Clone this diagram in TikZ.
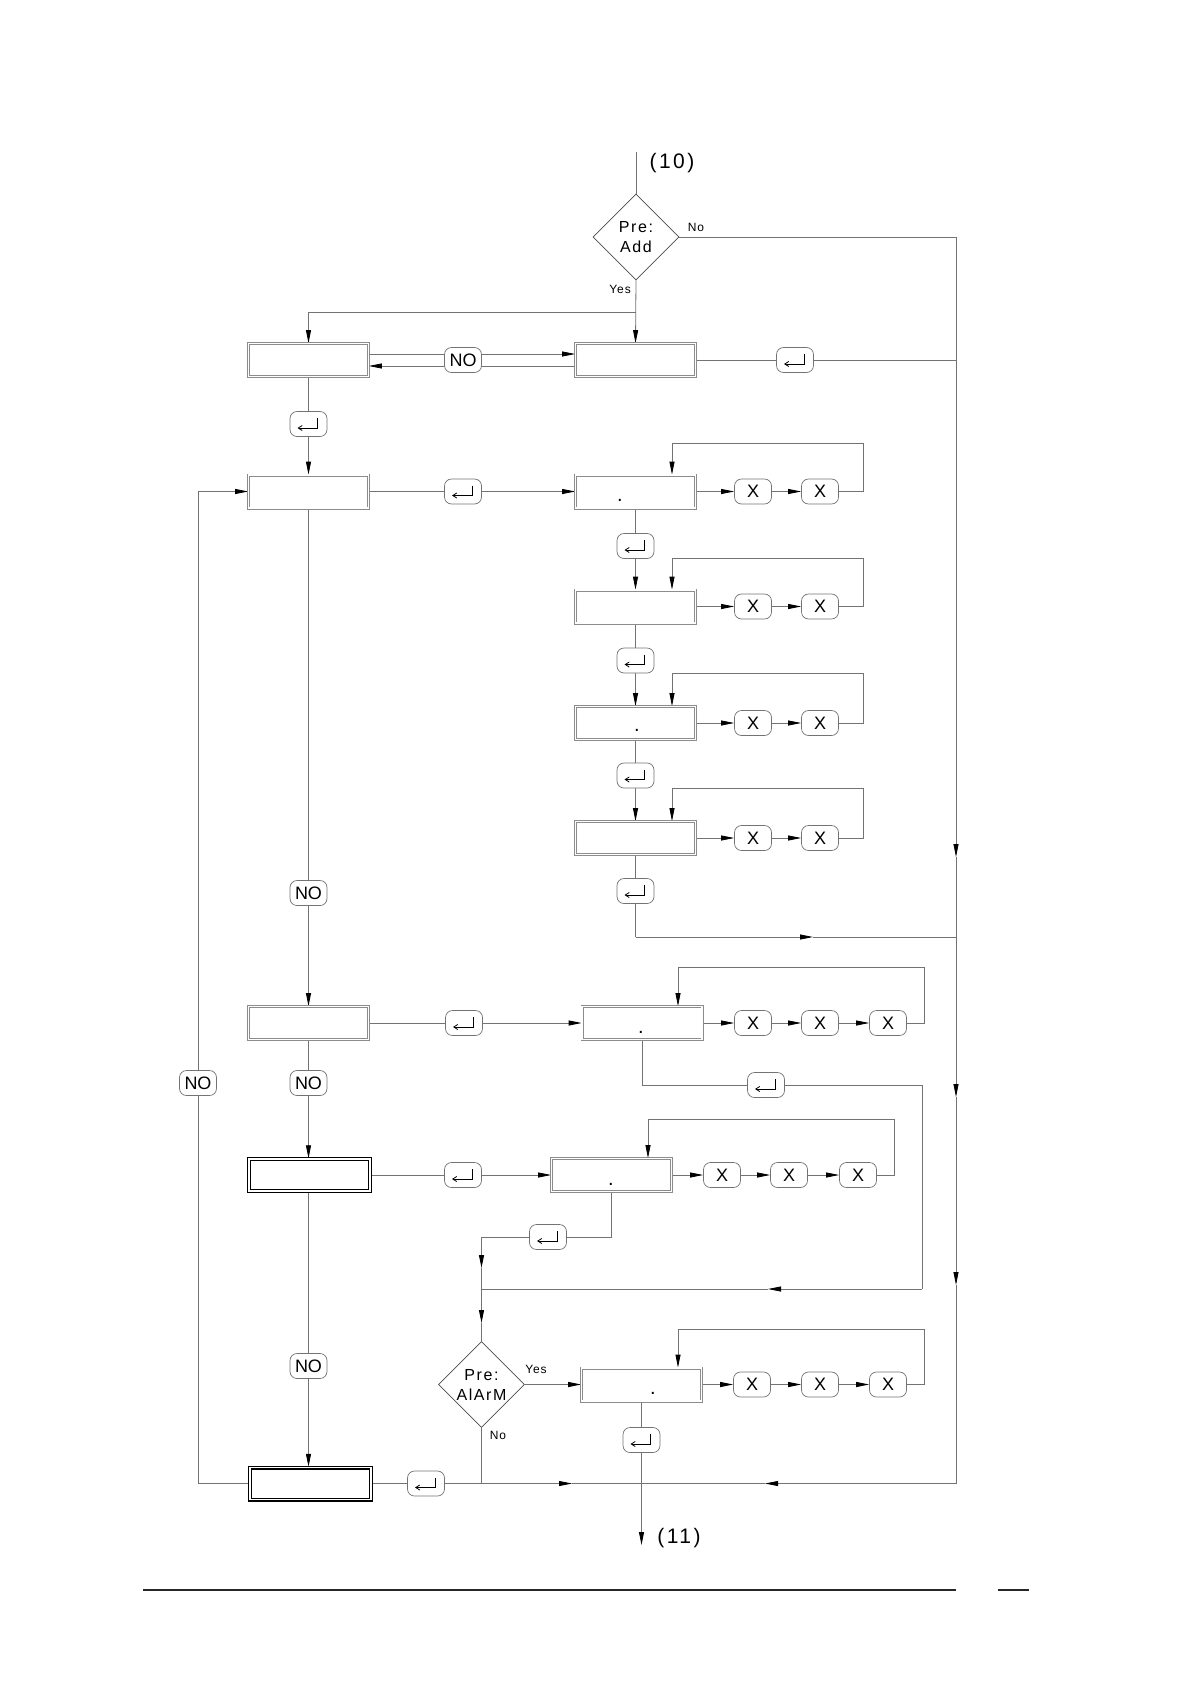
\documentclass[tikz,border=0pt]{standalone}
\usepackage{fontspec}
\setmainfont{Liberation Sans}
\usetikzlibrary{arrows.meta,shapes.geometric,calc}
\pgfdeclarelayer{bg}
\pgfsetlayers{bg,main}
\tikzset{
 ln/.style={draw=black!55, line width=0.8pt},
 arr/.style={ln, -{Triangle[length=13pt,width=5pt,color=black]}},
 gbox/.style={draw=black!45, line width=0.7pt, double=white, double distance=1.6pt, fill=white, minimum width=120pt, minimum height=33pt, inner sep=0pt},
 kbox/.style={draw=black, line width=1.4pt, double=white, double distance=1.2pt, fill=white, minimum width=121pt, minimum height=32pt, inner sep=0pt},
 btn/.style={draw=black!55, line width=0.7pt, rounded corners=7pt, fill=white, minimum width=37pt, minimum height=25pt, inner sep=0pt, font=\fontsize{18}{18}\selectfont},
 entbtn/.style={btn, path picture={\draw[black, line width=0.8pt, sharp corners, -{Straight Barb[length=4pt,width=5pt]}] ([shift={(9pt,6pt)}]path picture bounding box.center) -- ++(0,-10pt) -- ++(-20pt,0);}},
 dec/.style={diamond, draw=black!70, line width=0.7pt, fill=white, minimum width=86pt, minimum height=86pt, inner sep=0pt, aspect=1, font=\fontsize{16}{20}\selectfont\addfontfeature{LetterSpace=10}, align=center},
 lbl/.style={font=\fontsize{12}{12}\selectfont\addfontfeature{LetterSpace=8}, inner sep=0pt},
 bigl/.style={font=\fontsize{21}{21}\selectfont\addfontfeature{LetterSpace=12}, inner sep=0pt},
 dotl/.style={font=\fontsize{20}{20}\selectfont, inner sep=0pt, anchor=base},
}
\begin{document}
\begin{tikzpicture}[x=1pt,y=-1pt]
\useasboundingbox (0,0) rectangle (1190,1684);

% ---- top decision
\coordinate (c10) at (636,152);
\node[bigl] (t10) at (672,163) {(10)};
\node[dec] (d1) at (636,237) {Pre:\\Add};
\node[lbl] (no1) at (696,227) {No};
\node[lbl] (yes1) at (620,289) {Yes};

% ---- row 0
\node[gbox] (L0) at (308.5,360) {};
\node[gbox] (R0) at (635.5,360) {};
\node[btn] (n0) at (463,360) {NO};
\node[entbtn] (e0) at (795,360) {};
\node[entbtn] (eL0) at (308.5,424) {};

% ---- row 1
\node[gbox] (L1) at (308.5,491.5) {};
\node[entbtn] (e1) at (463,491.5) {};
\node[gbox] (R1) at (635.5,491.5) {};
\node[dotl] (p1) at (620,501) {.};
\node[btn] (X11) at (753,491.5) {X};
\node[btn] (X12) at (820,491.5) {X};
\node[entbtn] (e12) at (635.5,546) {};

% ---- row 2
\node[gbox] (R2) at (635.5,606.5) {};
\node[btn] (X21) at (753,606.5) {X};
\node[btn] (X22) at (820,606.5) {X};
\node[entbtn] (e23) at (635.5,660.5) {};

% ---- row 3
\node[gbox] (R3) at (635.5,723) {};
\node[dotl] (p3) at (637,731) {.};
\node[btn] (X31) at (753,723) {X};
\node[btn] (X32) at (820,723) {X};
\node[entbtn] (e34) at (635.5,775.5) {};

% ---- row 4
\node[gbox] (R4) at (635.5,838) {};
\node[btn] (X41) at (753,838) {X};
\node[btn] (X42) at (820,838) {X};
\node[entbtn] (e4) at (635.5,891) {};

% ---- row 5
\node[btn] (nA) at (308.5,893) {NO};
\node[gbox] (L5) at (308.5,1023) {};
\node[entbtn] (e5) at (464,1023) {};
\node[gbox] (R5) at (642,1023) {};
\node[dotl] (p5) at (641,1033) {.};
\node[btn] (X51) at (753,1023) {X};
\node[btn] (X52) at (820,1023) {X};
\node[btn] (X53) at (888,1023) {X};
\node[entbtn] (e5b) at (766,1085) {};
\node[btn] (nB) at (308.5,1083) {NO};
\node[btn] (nC) at (198,1083) {NO};

% ---- row 6
\node[kbox] (L6) at (309.5,1175) {};
\node[entbtn] (e6) at (463,1175) {};
\node[gbox] (R6) at (611.5,1175) {};
\node[dotl] (p6) at (611,1185) {.};
\node[btn] (X61) at (722,1175) {X};
\node[btn] (X62) at (789,1175) {X};
\node[btn] (X63) at (858,1175) {X};
\node[entbtn] (e6b) at (548,1237) {};

% ---- row 7
\node[dec] (d2) at (481.5,1384.5) {Pre:\\AlArM};
\node[lbl] (yes2) at (536,1369) {Yes};
\node[lbl] (no2) at (498,1435) {No};
\node[gbox] (R7) at (641.5,1384.5) {};
\node[dotl] (p7) at (653,1394) {.};
\node[btn] (X71) at (752,1384.5) {X};
\node[btn] (X72) at (820,1384.5) {X};
\node[btn] (X73) at (888,1384.5) {X};
\node[entbtn] (e7) at (641.5,1440) {};
\node[btn] (nD) at (308.5,1366) {NO};
\node[kbox] (L7) at (310.5,1483.5) {};
\node[entbtn] (e7b) at (426,1483.5) {};
\node[bigl] (t11) at (679,1538) {(11)};

% ---- coordinates
\coordinate (cY) at (636,312);
\coordinate (cYL) at (308.5,312);
\coordinate (cN1) at (956,237);
\coordinate (cR0j) at (956,360);
\coordinate (cRa1) at (956,857);
\coordinate (cRa2) at (956,1097);
\coordinate (cRa3) at (956,1285);
\coordinate (cB3) at (956,1483.5);
\coordinate (cBm2) at (765,1483.5);
\coordinate (cB2) at (641.5,1483.5);
\coordinate (cBm) at (572,1483.5);
\coordinate (cB1) at (481.5,1483.5);
\coordinate (c11) at (641.5,1545);
\coordinate (cL1) at (198,1483.5);
\coordinate (cL2) at (198,491.5);
\coordinate (l1b) at (863,443);   \coordinate (l1c) at (672,443);
\coordinate (l2b) at (863,558);   \coordinate (l2c) at (672,558);
\coordinate (l3b) at (863,673.5); \coordinate (l3c) at (672,673.5);
\coordinate (l4b) at (863,788.5); \coordinate (l4c) at (672,788.5);
\coordinate (l5b) at (924,967);   \coordinate (l5c) at (678,967);
\coordinate (l6b) at (894,1119);  \coordinate (l6c) at (648,1119);
\coordinate (l7b) at (924,1329);  \coordinate (l7c) at (678,1329);
\coordinate (c4a) at (635.5,937);
\coordinate (c4m) at (813,937);
\coordinate (c4e) at (956,937);
\coordinate (c5a) at (642,1085);
\coordinate (c5b) at (922,1085);
\coordinate (c5c) at (922,1289);
\coordinate (c5m) at (768,1289);
\coordinate (c5d) at (481.5,1289);
\coordinate (c6a) at (611.5,1237);
\coordinate (c6b) at (481.5,1237);
\coordinate (c6m) at (481.5,1268);
\coordinate (c6n) at (481.5,1323);

\begin{pgfonlayer}{bg}
% top
\draw[ln] (c10) -- (d1.north);
\draw[arr] (d1.south) -- (R0.north);
\draw[arr] (cY) -- (cYL) -- (L0.north);
\draw[ln] (d1.east) -- (cN1);
% right trunk
\draw[arr] (cN1) -- (cRa1);
\draw[arr] (cRa1) -- (cRa2);
\draw[arr] (cRa2) -- (cRa3);
\draw[ln] (cRa3) -- (cB3);
\draw[arr] (cB3) -- (cBm2);
\draw[ln] (cBm2) -- (cB2);
% row 0
\draw[arr] ([yshift=6pt]L0.east) -- ([yshift=6pt]R0.west);
\draw[arr] ([yshift=-6pt]R0.west) -- ([yshift=-6pt]L0.east);
\draw[ln] (R0.east) -- (e0) -- (cR0j);
\draw[ln] (L0.south) -- (eL0);
\draw[arr] (eL0) -- (L1.north);
% row 1
\draw[ln] (L1.east) -- (e1);
\draw[arr] (e1) -- (R1.west);
\draw[arr] (R1.east) -- (X11.west);
\draw[arr] (X11.east) -- (X12.west);
\draw[arr] (X12.east) -| (l1b) -- (l1c) -- (l1c |- R1.north);
\draw[ln] (R1.south) -- (e12);
\draw[arr] (e12) -- (R2.north);
% row 2
\draw[arr] (R2.east) -- (X21.west);
\draw[arr] (X21.east) -- (X22.west);
\draw[arr] (X22.east) -| (l2b) -- (l2c) -- (l2c |- R2.north);
\draw[ln] (R2.south) -- (e23);
\draw[arr] (e23) -- (R3.north);
% row 3
\draw[arr] (R3.east) -- (X31.west);
\draw[arr] (X31.east) -- (X32.west);
\draw[arr] (X32.east) -| (l3b) -- (l3c) -- (l3c |- R3.north);
\draw[ln] (R3.south) -- (e34);
\draw[arr] (e34) -- (R4.north);
% row 4
\draw[arr] (R4.east) -- (X41.west);
\draw[arr] (X41.east) -- (X42.west);
\draw[arr] (X42.east) -| (l4b) -- (l4c) -- (l4c |- R4.north);
\draw[ln] (R4.south) -- (e4) -- (c4a);
\draw[arr] (c4a) -- (c4m);
\draw[ln] (c4m) -- (c4e);
% left column
\draw[ln] (L1.south) -- (nA);
\draw[arr] (nA) -- (L5.north);
\draw[ln] (L5.south) -- (nB);
\draw[arr] (nB) -- (nB |- L6.north);
\draw[ln] (L6.south -| nB) -- (nD);
\draw[arr] (nD) -- (nD |- L7.north);
\draw[ln] (L7.west) -- (cL1) -- (nC);
\draw[arr] (nC) -- (cL2) -- (L1.west);
% row 5
\draw[ln] (L5.east) -- (e5);
\draw[arr] (e5) -- (R5.west);
\draw[arr] (R5.east) -- (X51.west);
\draw[arr] (X51.east) -- (X52.west);
\draw[arr] (X52.east) -- (X53.west);
\draw[arr] (X53.east) -| (l5b) -- (l5c) -- (l5c |- R5.north);
\draw[ln] (R5.south) -- (c5a) -- (e5b) -- (c5b) -- (c5c);
\draw[arr] (c5c) -- (c5m);
\draw[ln] (c5m) -- (c5d);
% row 6
\draw[ln] (L6.east) -- (e6);
\draw[arr] (e6) -- (R6.west);
\draw[arr] (R6.east) -- (X61.west);
\draw[arr] (X61.east) -- (X62.west);
\draw[arr] (X62.east) -- (X63.west);
\draw[arr] (X63.east) -| (l6b) -- (l6c) -- (l6c |- R6.north);
\draw[ln] (R6.south) -- (c6a) -- (e6b) -- (c6b);
\draw[arr] (c6b) -- (c6m);
\draw[ln] (c6m) -- (c5d);
\draw[arr] (c5d) -- (c6n);
\draw[ln] (c6n) -- (d2.north);
% row 7
\draw[arr] (d2.east) -- (R7.west);
\draw[ln] (d2.south) -- (cB1);
\draw[arr] (R7.east) -- (X71.west);
\draw[arr] (X71.east) -- (X72.west);
\draw[arr] (X72.east) -- (X73.west);
\draw[arr] (X73.east) -| (l7b) -- (l7c) -- (l7c |- R7.north);
\draw[ln] (R7.south) -- (e7);
\draw[arr] (e7) -- (c11);
% bottom
\draw[ln] (L7.east) -- (e7b) -- (cB1);
\draw[arr] (cB1) -- (cBm);
\draw[ln] (cBm) -- (cB2);
\end{pgfonlayer}

% footer rules
\draw[line width=2.5pt, black!85] (143,1590) -- (956,1590);
\draw[line width=2.5pt, black!85] (998,1590) -- (1029,1590);
\end{tikzpicture}
\end{document}
